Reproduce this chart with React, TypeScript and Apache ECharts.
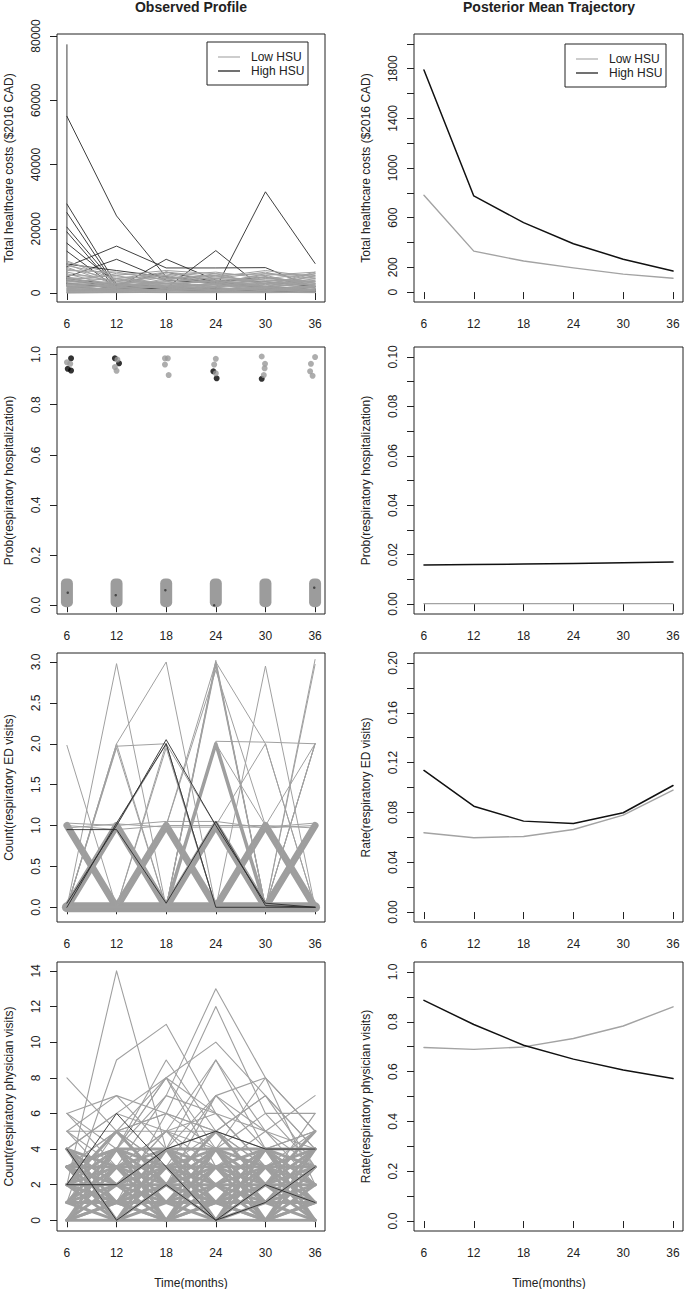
import React, { useEffect, useRef } from "react";
import * as echarts from "echarts";

// ---------------- DATA ----------------
const TIMES = [6, 12, 18, 24, 30, 36];
const X_TICKS = [6, 12, 18, 24, 30, 36];

// Observed profile: total healthcare costs
const costHigh: number[][] = [
  [55000, 24000, 5000, 3000, 1500, 1000],
  [27700, 2600, 1500, 1000, 800, 600],
  [25000, 1800, 1200, 900, 700, 500],
  [20500, 2200, 1500, 1200, 900, 700],
  [19000, 1200, 900, 800, 600, 400],
  [15500, 3000, 2000, 1500, 1000, 800],
  [13000, 1500, 1000, 700, 500, 300],
  [8200, 14600, 7800, 7800, 7900, 1500],
  [5000, 10500, 4000, 3000, 2000, 1000],
  [3000, 1500, 10500, 4000, 3500, 2000],
  [4000, 2000, 1500, 13200, 800, 600],
  [3000, 1500, 1200, 1500, 31500, 9200],
  [9000, 7000, 5000, 3500, 2000, 1000],
  [4500, 2500, 6500, 3500, 5000, 2000],
];
const costSpikeTimes = [6, 6, 12, 18, 24, 30, 36];
const costSpikeValues = [77400, 2000, 1000, 800, 500, 400, 300];
const costLow: number[][] = [
  [10000, 4000, 3000, 2500, 2000, 1500],
  [9500, 6000, 5000, 4500, 4000, 3500],
  [9000, 3000, 2000, 3000, 2500, 2000],
  [8500, 5500, 7000, 6000, 5500, 6500],
  [8000, 2500, 1500, 1000, 1500, 1000],
  [7500, 4500, 6500, 5000, 7000, 5000],
  [7000, 6500, 4000, 3500, 3000, 2500],
  [6500, 3500, 5500, 6500, 4500, 6000],
  [6000, 2000, 3000, 2000, 3500, 3000],
  [5500, 5000, 4500, 5500, 6000, 4500],
  [5000, 1500, 2500, 4000, 2000, 5500],
  [4800, 4000, 6000, 3000, 5000, 2500],
  [4500, 3000, 3500, 5000, 4000, 4000],
  [4200, 5500, 2000, 4500, 6500, 3000],
  [4000, 2500, 5000, 2500, 3000, 5000],
  [3800, 1800, 4000, 6000, 2500, 6000],
  [3500, 4500, 3000, 3500, 5500, 2000],
  [3200, 2000, 6500, 4000, 2000, 4500],
  [3000, 3500, 2500, 2000, 4500, 3500],
  [2800, 1500, 4500, 5500, 3000, 1500],
  [2600, 2500, 1500, 3000, 6000, 5500],
  [2400, 3000, 5500, 2500, 1500, 4000],
  [2200, 1000, 2000, 4500, 3500, 2500],
  [2000, 2000, 3500, 1500, 5000, 3000],
  [1800, 1200, 1000, 2000, 2500, 6500],
  [1600, 2500, 3000, 3500, 1000, 2000],
  [1400, 800, 2500, 1200, 2000, 1000],
  [1200, 1500, 1800, 2500, 1500, 3500],
  [1000, 600, 1200, 800, 3000, 1500],
  [800, 1000, 2000, 1500, 800, 2500],
  [600, 500, 800, 1000, 1200, 800],
  [400, 300, 600, 500, 400, 1200],
  [200, 200, 300, 200, 600, 400],
  [100, 100, 200, 300, 200, 100],
  [0, 200, 100, 100, 100, 200],
  [300, 400, 1500, 700, 900, 600],
  [700, 900, 500, 1800, 700, 2200],
  [1100, 1300, 700, 600, 1800, 900],
  [2500, 1700, 2200, 900, 1300, 700],
  [1500, 600, 900, 2700, 600, 1800],
];

// Observed profile: respiratory hospitalization (jittered 0/1)
const hospStripLow = [-0.008, -0.008, -0.008, -0.008, -0.008, -0.008];
const hospStripHigh = [0.107, 0.107, 0.107, 0.107, 0.107, 0.107];
const hospTopLowX = [6.0, 6.4, 12.1, 11.8, 12.0, 17.85, 18.2, 17.85, 18.3, 24.0, 23.8, 24.0, 29.55, 29.95, 29.9, 29.8, 36.0, 35.5, 35.4, 35.7];
const hospTopLowY = [0.969, 0.963, 0.98, 0.95, 0.935, 0.985, 0.985, 0.96, 0.918, 0.983, 0.96, 0.925, 0.992, 0.963, 0.945, 0.918, 0.99, 0.963, 0.933, 0.915];
const hospTopHighX = [6.5, 6.1, 6.5, 11.8, 12.3, 23.7, 24.1, 29.55];
const hospTopHighY = [0.985, 0.943, 0.936, 0.985, 0.965, 0.933, 0.905, 0.903];
const hospBottomHighX = [6.1, 11.9, 17.9, 23.8, 35.9];
const hospBottomHighY = [0.05, 0.04, 0.06, 0.0, 0.07];

// Observed profile: respiratory ED visits
const edBundles: number[][] = [
  [0, 0, 0, 0, 0, 0],
  [1, 0, 1, 0, 1, 0],
  [0, 1, 0, 1, 0, 1],
  [0, 0, 0, 2, 0, 0],
];
const edBundleWidths = [10, 7, 7, 3.5];
const edLow: number[][] = [
  [1.98, 0, 0, 0, 0, 0],
  [0, 2.98, 0, 0, 0, 0],
  [0, 2.0, 3.0, 0, 0, 0],
  [0, 1.97, 2.0, 0, 0, 0],
  [0, 1.95, 0, 1, 0, 0],
  [0, 0, 1.95, 0, 0, 0],
  [0, 0, 1.0, 3.0, 0, 0],
  [0, 0, 0, 2.98, 0, 0],
  [0, 0, 0, 2.95, 0, 0],
  [0, 1, 0, 3.02, 0, 2.0],
  [0, 0, 1, 2.9, 1, 0],
  [0, 0, 0, 3.0, 2.0, 0],
  [0, 0, 0, 2.03, 2.02, 2.0],
  [0, 0, 0, 2.0, 0, 1.0],
  [0, 0, 0, 0, 2.95, 0],
  [0, 0, 0, 0, 0, 3.03],
  [0, 0, 0, 0, 0, 2.97],
  [0, 0, 0, 1, 2.0, 0],
  [0, 0, 0, 0, 0, 2.0],
  [0, 0, 0, 0, 1, 2.0],
  [0, 0, 0, 2.0, 1.0, 0],
  [1.03, 1.0, 1.05, 1.05, 0.97, 1.0],
  [0.97, 1.02, 0.98, 0.98, 0.98, 1.03],
  [1.0, 0.95, 1.0, 1.0, 1.0, 0.97],
  [0, 1, 2.0, 0, 0, 0],
  [0, 1, 0, 2, 0, 0],
  [0, 2.0, 0, 0, 0, 0],
  [0, 0, 2.0, 1, 0, 0],
  [0, 0, 0, 1, 0, 2.0],
];
const edHigh: number[][] = [
  [0.05, 1.0, 2.05, 1.0, 0.05, 0.0],
  [0.95, 0.95, 0.05, 1.05, 0.02, 0.0],
  [0.0, 1.03, 2.0, 0.0, 0.0, 0.0],
];

// Observed profile: respiratory physician visits
const phyLattice: number[][] = [
  [0, 1, 0, 1, 0, 1], [1, 0, 1, 0, 1, 0], [1, 2, 1, 2, 1, 2], [2, 1, 2, 1, 2, 1],
  [2, 3, 2, 3, 2, 3], [3, 2, 3, 2, 3, 2], [3, 4, 3, 4, 3, 4], [4, 3, 4, 3, 4, 3],
  [0, 2, 0, 2, 0, 2], [2, 0, 2, 0, 2, 0], [1, 3, 1, 3, 1, 3], [3, 1, 3, 1, 3, 1],
  [2, 4, 2, 4, 2, 4], [4, 2, 4, 2, 4, 2], [0, 3, 0, 3, 0, 3], [3, 0, 3, 0, 3, 0],
  [0, 0, 0, 0, 0, 0], [1, 1, 1, 1, 1, 1], [2, 2, 2, 2, 2, 2], [3, 3, 3, 3, 3, 3],
  [3, 4, 4, 4, 4, 4], [1, 4, 1, 4, 1, 4], [4, 1, 4, 1, 4, 1], [0, 4, 0, 4, 0, 4],
  [4, 0, 4, 0, 4, 0], [2, 5, 2, 5, 2, 5], [0, 1, 2, 1, 0, 1], [2, 1, 0, 1, 2, 1],
];
const phyLow: number[][] = [
  [2, 14, 4, 3, 1, 2],
  [1, 9, 11, 6, 3, 2],
  [8, 5, 3, 4, 2, 1],
  [6, 7, 6, 5, 3, 2],
  [5, 5, 5, 5, 4, 3],
  [6, 4, 8, 3, 2, 1],
  [3, 5, 8, 4, 8, 2],
  [5, 7, 4, 9, 5, 3],
  [2, 4, 9, 5, 3, 2],
  [4, 6, 8, 10, 7, 4],
  [1, 3, 7, 13, 8, 5],
  [2, 5, 6, 12, 6, 3],
  [3, 2, 5, 9, 4, 2],
  [2, 3, 4, 7, 8, 5],
  [1, 2, 3, 5, 7, 4],
  [3, 4, 7, 6, 5, 7],
  [2, 3, 5, 4, 6, 6],
  [5, 3, 2, 7, 5, 4],
  [4, 6, 5, 3, 4, 5],
  [3, 5, 6, 4, 2, 6],
  [0, 4, 8, 6, 3, 2],
  [2, 1, 6, 5, 7, 3],
  [4, 2, 5, 6, 3, 5],
  [1, 5, 3, 7, 4, 3],
  [5, 2, 4, 3, 5, 2],
  [0, 3, 5, 2, 4, 5],
  [6, 3, 4, 5, 2, 3],
];
const phyHigh: number[][] = [
  [2, 2, 4, 5, 4, 4],
  [4, 0, 2, 0, 1, 3],
  [2, 6, 3, 0, 2, 1],
];

// Posterior mean trajectories
const postCostLow = [780, 330, 250, 195, 145, 112];
const postCostHigh = [1790, 775, 560, 390, 265, 170];
const postHospLow = [0.0002, 0.0002, 0.0002, 0.0002, 0.0002, 0.0002];
const postHospHigh = [0.0158, 0.016, 0.0162, 0.0164, 0.0167, 0.017];
const postEdLow = [0.0637, 0.0597, 0.0607, 0.0663, 0.0778, 0.0979];
const postEdHigh = [0.1137, 0.085, 0.073, 0.0711, 0.0797, 0.1016];
const postPhyLow = [0.697, 0.689, 0.699, 0.733, 0.783, 0.86];
const postPhyHigh = [0.886, 0.789, 0.706, 0.65, 0.606, 0.572];

// Axis ticks / labels
const yTicks: number[][] = [
  [0, 20000, 40000, 60000, 80000],
  [0, 200, 400, 600, 800, 1000, 1200, 1400, 1600, 1800, 2000],
  [0, 0.2, 0.4, 0.6, 0.8, 1.0],
  [0, 0.01, 0.02, 0.03, 0.04, 0.05, 0.06, 0.07, 0.08, 0.09, 0.1],
  [0, 0.5, 1.0, 1.5, 2.0, 2.5, 3.0],
  [0, 0.02, 0.04, 0.06, 0.08, 0.1, 0.12, 0.14, 0.16, 0.18, 0.2],
  [0, 2, 4, 6, 8, 10, 12, 14],
  [0, 0.1, 0.2, 0.3, 0.4, 0.5, 0.6, 0.7, 0.8, 0.9, 1.0],
];
const yLabels: number[][] = [
  [0, 20000, 40000, 60000, 80000],
  [0, 200, 600, 1000, 1400, 1800],
  [0, 0.2, 0.4, 0.6, 0.8, 1.0],
  [0, 0.02, 0.04, 0.06, 0.08, 0.1],
  [0, 0.5, 1.0, 1.5, 2.0, 2.5, 3.0],
  [0, 0.04, 0.08, 0.12, 0.16, 0.2],
  [0, 2, 4, 6, 8, 10, 12, 14],
  [0, 0.2, 0.4, 0.6, 0.8, 1.0],
];
const yDecimals = [0, 0, 1, 2, 1, 2, 0, 1];
const yMin = [-2800, -80, -0.035, -0.004, -0.18, -0.008, -0.6, -0.04];
const yMax = [80620, 2080, 1.03, 0.104, 3.11, 0.208, 14.5, 1.04];
const yNames = [
  "Total healthcare costs ($2016 CAD)",
  "Total healthcare costs ($2016 CAD)",
  "Prob(respiratory hospitalization)",
  "Prob(respiratory hospitalization)",
  "Count(respiratory ED visits)",
  "Rate(respiratory ED visits)",
  "Count(respiratory physician visits)",
  "Rate(respiratory physician visits)",
];

// ---------------- LAYOUT / STYLE ----------------
const COL_LEFT = [57, 414];
const COL_WIDTH = [268, 269];
const ROW_TOP = [34, 347, 653, 962];
const ROW_HEIGHT = [268, 267, 269, 269];
const FONT = "'Liberation Sans', Arial, Helvetica, sans-serif";
const TXT = "#222";
const GRAY = "#a0a0a0";
const LATTICE = "#9e9e9e";
const OBS_BLACK = "#2a2a2a";
const BLACK = "#111";
const POST_GRAY = "#a3a3a3";
const LEG_GRAY = "#bdbdbd";

function traj(values: number[], panel: number, color: string, width: number, z: number) {
  return {
    type: "line",
    xAxisIndex: panel,
    yAxisIndex: panel,
    data: TIMES.map((t, i) => [t, values[i]]),
    symbol: "none",
    silent: true,
    animation: false,
    lineStyle: { color, width, cap: "round", join: "round" },
    z,
  };
}

function legendGroup(x: number, y: number) {
  return {
    type: "group",
    x,
    y,
    children: [
      { type: "rect", shape: { x: 0, y: 0, width: 101, height: 43 }, style: { fill: "#fff", stroke: "#222", lineWidth: 1 } },
      { type: "line", shape: { x1: 11, y1: 15, x2: 33, y2: 15 }, style: { stroke: LEG_GRAY, lineWidth: 1.5 } },
      { type: "line", shape: { x1: 11, y1: 29, x2: 33, y2: 29 }, style: { stroke: BLACK, lineWidth: 1.2 } },
      { type: "text", x: 44, y: 15, style: { text: "Low HSU", font: `12px ${FONT}`, fill: TXT, verticalAlign: "middle" } },
      { type: "text", x: 44, y: 29, style: { text: "High HSU", font: `12px ${FONT}`, fill: TXT, verticalAlign: "middle" } },
    ],
  };
}

function buildOption() {
  const grids: any[] = [];
  const xAxes: any[] = [];
  const yAxes: any[] = [];
  for (let p = 0; p < 8; p++) {
    const r = Math.floor(p / 2);
    const c = p % 2;
    grids.push({
      left: COL_LEFT[c],
      top: ROW_TOP[r],
      width: COL_WIDTH[c],
      height: ROW_HEIGHT[r],
      show: true,
      borderColor: "#222",
      borderWidth: 1,
      backgroundColor: "transparent",
      containLabel: false,
    });
    xAxes.push({
      type: "value",
      gridIndex: p,
      min: 4.8,
      max: 37.2,
      axisLine: { show: false },
      axisTick: { show: true, length: 7, lineStyle: { color: "#222" }, customValues: X_TICKS },
      axisLabel: { show: true, customValues: X_TICKS, margin: 16, fontSize: 12, color: TXT, fontFamily: FONT },
      splitLine: { show: false },
    });
    const dec = yDecimals[p];
    yAxes.push({
      type: "value",
      gridIndex: p,
      min: yMin[p],
      max: yMax[p],
      axisLine: { show: false },
      axisTick: { show: true, length: 7, lineStyle: { color: "#222" }, customValues: yTicks[p] },
      axisLabel: {
        show: true,
        customValues: yLabels[p],
        rotate: 90,
        margin: 15,
        fontSize: 12,
        color: TXT,
        fontFamily: FONT,
        formatter: (v: number) => v.toFixed(dec),
      },
      splitLine: { show: false },
      name: yNames[p],
      nameLocation: "middle",
      nameGap: 42,
      nameTextStyle: { fontSize: 12, color: TXT, fontFamily: FONT },
    });
  }

  const series: any[] = [];
  // Panel 0: observed costs (gray drawn over the black tails near zero)
  costHigh.forEach((v) => series.push(traj(v, 0, OBS_BLACK, 0.9, 2)));
  series.push({
    type: "line",
    xAxisIndex: 0,
    yAxisIndex: 0,
    data: costSpikeTimes.map((t, i) => [t, costSpikeValues[i]]),
    symbol: "none",
    silent: true,
    lineStyle: { color: OBS_BLACK, width: 0.9 },
    z: 2,
  });
  costLow.forEach((v) => series.push(traj(v, 0, GRAY, 1, 3)));
  // Panel 1: posterior costs
  series.push(traj(postCostLow, 1, POST_GRAY, 1.4, 2));
  series.push(traj(postCostHigh, 1, BLACK, 1.5, 3));

  // Panel 2: observed hospitalization
  series.push({
    type: "custom",
    xAxisIndex: 2,
    yAxisIndex: 2,
    silent: true,
    data: TIMES.map((t, i) => [t, hospStripLow[i], hospStripHigh[i]]),
    encode: { x: 0, y: [1, 2] },
    renderItem: (params: any, api: any) => {
      const t = api.value(0);
      const top = api.coord([t, api.value(2)]);
      const bot = api.coord([t, api.value(1)]);
      return {
        type: "rect",
        shape: { x: top[0] - 6, y: top[1], width: 12, height: bot[1] - top[1], r: 5 },
        style: { fill: "#9c9c9c" },
      };
    },
    z: 2,
  });
  series.push({
    type: "scatter",
    xAxisIndex: 2,
    yAxisIndex: 2,
    silent: true,
    symbolSize: 2.5,
    data: hospBottomHighX.map((x, i) => [x, hospBottomHighY[i]]),
    itemStyle: { color: "#333" },
    z: 3,
  });
  series.push({
    type: "scatter",
    xAxisIndex: 2,
    yAxisIndex: 2,
    silent: true,
    symbolSize: 6,
    data: hospTopHighX.map((x, i) => [x, hospTopHighY[i]]),
    itemStyle: { color: "#000" },
    z: 3,
  });
  series.push({
    type: "scatter",
    xAxisIndex: 2,
    yAxisIndex: 2,
    silent: true,
    symbolSize: 6,
    data: hospTopLowX.map((x, i) => [x, hospTopLowY[i]]),
    itemStyle: { color: "#999" },
    z: 4,
  });
  // Panel 3: posterior hospitalization
  series.push(traj(postHospLow, 3, POST_GRAY, 1.4, 2));
  series.push(traj(postHospHigh, 3, BLACK, 1.5, 3));

  // Panel 4: observed ED visits
  edBundles.forEach((v, i) => series.push(traj(v, 4, LATTICE, edBundleWidths[i], 1)));
  edLow.forEach((v) => series.push(traj(v, 4, GRAY, 1, 2)));
  edHigh.forEach((v) => series.push(traj(v, 4, OBS_BLACK, 0.9, 3)));
  // Panel 5: posterior ED
  series.push(traj(postEdLow, 5, POST_GRAY, 1.4, 2));
  series.push(traj(postEdHigh, 5, BLACK, 1.5, 3));

  // Panel 6: observed physician visits
  phyLattice.forEach((v) => series.push(traj(v, 6, LATTICE, 3, 1)));
  phyLow.forEach((v) => series.push(traj(v, 6, GRAY, 1.1, 2)));
  phyHigh.forEach((v) => series.push(traj(v, 6, OBS_BLACK, 0.9, 3)));
  // Panel 7: posterior physician
  series.push(traj(postPhyLow, 7, POST_GRAY, 1.4, 2));
  series.push(traj(postPhyHigh, 7, BLACK, 1.5, 3));

  const graphic: any[] = [
    { type: "text", x: 191, y: 7, style: { text: "Observed Profile", font: `bold 14px ${FONT}`, fill: TXT, align: "center", verticalAlign: "middle" } },
    { type: "text", x: 549, y: 7, style: { text: "Posterior Mean Trajectory", font: `bold 14px ${FONT}`, fill: TXT, align: "center", verticalAlign: "middle" } },
    { type: "text", x: 191, y: 1283, style: { text: "Time(months)", font: `12px ${FONT}`, fill: TXT, align: "center", verticalAlign: "middle" } },
    { type: "text", x: 549, y: 1283, style: { text: "Time(months)", font: `12px ${FONT}`, fill: TXT, align: "center", verticalAlign: "middle" } },
    legendGroup(207, 42),
    legendGroup(565, 44),
  ];

  return {
    animation: false,
    backgroundColor: "#fff",
    textStyle: { fontFamily: FONT },
    grid: grids,
    xAxis: xAxes,
    yAxis: yAxes,
    series,
    graphic,
  };
}

export default function App() {
  const ref = useRef<HTMLDivElement>(null);
  useEffect(() => {
    if (!ref.current) return;
    const chart = echarts.init(ref.current, null, { renderer: "svg" });
    chart.setOption(buildOption() as any);
    return () => chart.dispose();
  }, []);
  return (
    <div
      ref={ref}
      style={{ position: "absolute", left: 0, top: 0, width: 685, height: 1289, background: "#fff" }}
    />
  );
}
